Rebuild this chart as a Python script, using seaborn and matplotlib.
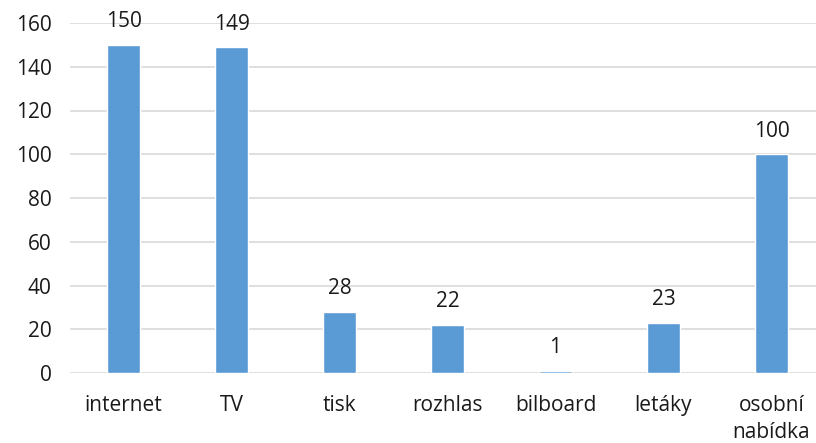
import matplotlib
matplotlib.use("Agg")
import matplotlib.pyplot as plt
import seaborn as sns
import pandas as pd

categories = ["internet", "TV", "tisk", "rozhlas", "bilboard", "letáky", "osobní\nnabídka"]
values = [150, 149, 28, 22, 1, 23, 100]

df = pd.DataFrame({"kategorie": categories, "pocet": values})

sns.set_theme(style="white")
plt.rcParams["font.family"] = ["Open Sans", "DejaVu Sans"]

W, H = 816, 443
fig = plt.figure(figsize=(W / 100, H / 100), dpi=100)
left_px, right_px, top_px, bottom_px = 69.5, 816, 23, 373
ax = fig.add_axes([left_px / W, (H - bottom_px) / H, (right_px - left_px) / W, (bottom_px - top_px) / H])

sns.barplot(data=df, x="kategorie", y="pocet", color="#5B9BD5", saturation=1,
            width=0.305, ax=ax, zorder=3)

ax.set_ylim(0, 160)
ax.set_xlim(-0.5, -0.5 + (right_px - left_px) / 108)
ax.set_yticks(range(0, 161, 20))
ax.yaxis.grid(True, color="#D9D9D9", linewidth=1.2, zorder=0)
ax.set_axisbelow(True)
for s in ax.spines.values():
    s.set_visible(False)
ax.set_xlabel("")
ax.set_ylabel("")
ax.tick_params(axis="both", length=0, labelsize=15, colors="#1a1a1a")
ax.tick_params(axis="y", pad=13)
ax.tick_params(axis="x", pad=16)
for lbl in ax.get_xticklabels():
    lbl.set_linespacing(1.35)
    lbl.set_verticalalignment("top")

for i, v in enumerate(values):
    ax.annotate(str(v), (i, v), xytext=(0, 9), textcoords="offset points",
                ha="center", va="bottom", fontsize=15, color="#1a1a1a")

fig.savefig("out.png", dpi=100)
